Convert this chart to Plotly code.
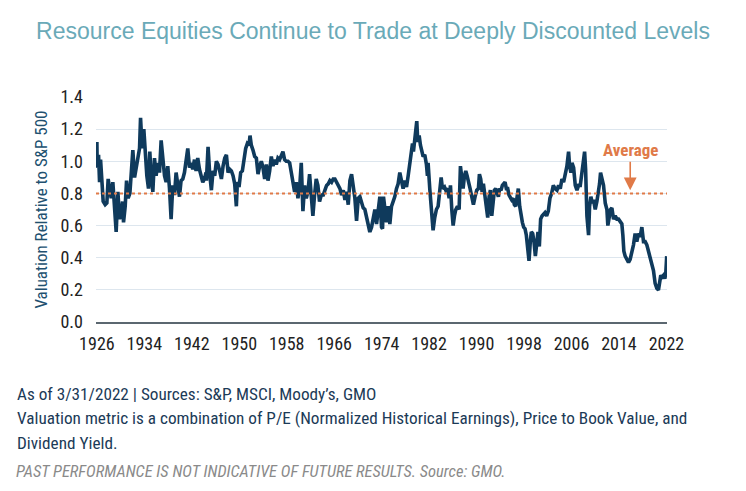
import plotly.graph_objects as go

# ---- Data ----
# (year, valuation relative to S&P 500)
seg_1926_1944 = [
    (1926.0, 1.12), (1926.05, 0.96), (1926.28, 1.04), (1926.45, 0.87), (1926.62, 1.01),
    (1926.84, 0.83), (1927.06, 0.75), (1927.4, 0.73), (1927.68, 0.74), (1927.9, 0.89),
    (1928.19, 0.80), (1928.41, 0.77), (1928.69, 0.87), (1928.98, 0.72), (1929.25, 0.56),
    (1929.54, 0.81), (1929.82, 0.64), (1930.09, 0.68), (1930.33, 0.75), (1930.49, 0.62),
    (1930.77, 0.72), (1931.0, 0.88), (1931.27, 0.77), (1931.56, 0.80), (1931.84, 0.95),
    (1932.06, 1.07), (1932.35, 0.90), (1932.62, 0.96), (1932.9, 1.03), (1933.19, 1.08),
    (1933.36, 1.27), (1933.63, 1.08), (1933.91, 1.20), (1934.13, 1.06), (1934.42, 0.91),
    (1934.7, 0.83), (1934.92, 1.06), (1935.14, 0.91), (1935.43, 0.81), (1935.71, 1.02),
    (1935.98, 0.91), (1936.27, 0.99), (1936.55, 0.93), (1936.83, 1.13), (1937.11, 1.01),
    (1937.4, 0.91), (1937.67, 0.87), (1937.95, 0.97), (1938.24, 0.83), (1938.51, 0.64),
    (1938.79, 0.85), (1939.08, 0.79), (1939.35, 0.93), (1939.64, 0.83), (1939.92, 0.78),
    (1940.19, 0.88), (1940.48, 0.89), (1940.76, 0.93), (1941.03, 0.99), (1941.32, 1.08),
    (1941.61, 0.96), (1941.88, 0.99), (1942.16, 0.95), (1942.45, 1.01), (1942.72, 0.94),
    (1943.0, 1.02), (1943.29, 0.95), (1943.56, 0.91), (1943.85, 0.87), (1944.13, 0.89),
    (1944.4, 0.93),
]
seg_1944_1964 = [
    (1944.46, 0.88), (1944.74, 1.09), (1945.02, 0.92), (1945.30, 0.82), (1945.58, 0.94),
    (1945.86, 0.91), (1946.14, 1.00), (1946.42, 0.98), (1946.70, 0.94), (1946.99, 0.89),
    (1947.27, 0.97), (1947.55, 1.02), (1947.83, 1.04), (1948.11, 0.93), (1948.39, 0.95),
    (1948.67, 0.94), (1948.95, 0.91), (1949.23, 0.86), (1949.51, 0.72), (1949.68, 0.87),
    (1949.96, 0.84), (1950.24, 0.93), (1950.52, 0.94), (1950.80, 1.01), (1951.08, 1.08),
    (1951.36, 1.11), (1951.64, 1.10), (1951.81, 1.16), (1952.03, 1.10), (1952.31, 1.07),
    (1952.60, 1.03), (1952.88, 1.02), (1953.16, 0.92), (1953.44, 0.97), (1953.72, 1.00),
    (1954.00, 0.96), (1954.28, 0.89), (1954.56, 0.98), (1954.84, 0.88), (1955.12, 0.94),
    (1955.40, 1.03), (1955.68, 0.97), (1955.96, 1.01), (1956.24, 0.98), (1956.52, 1.02),
    (1956.80, 1.01), (1957.08, 1.04), (1957.36, 1.06), (1957.64, 1.01), (1957.92, 1.00),
    (1958.21, 1.00), (1958.49, 0.99), (1958.77, 0.93), (1959.05, 0.88), (1959.33, 0.81),
    (1959.61, 0.87), (1959.89, 0.77), (1960.17, 0.83), (1960.45, 0.99), (1960.73, 0.69),
    (1961.01, 0.85), (1961.29, 0.77), (1961.57, 0.81), (1961.85, 0.92), (1962.13, 0.77),
    (1962.41, 0.66), (1962.69, 0.79), (1962.97, 0.89), (1963.25, 0.85), (1963.53, 0.75),
    (1963.82, 0.79),
]
seg_1964_1983 = [
    (1964.16, 0.79), (1964.44, 0.82), (1964.72, 0.85), (1965.00, 0.86), (1965.28, 0.88),
    (1965.56, 0.87), (1965.84, 0.89), (1966.12, 0.89), (1966.40, 0.87), (1966.69, 0.84),
    (1966.97, 0.83), (1967.25, 0.79), (1967.53, 0.82), (1967.81, 0.76), (1968.09, 0.81),
    (1968.37, 0.73), (1968.65, 0.88), (1968.93, 0.92), (1969.21, 0.85), (1969.49, 0.77),
    (1969.77, 0.63), (1970.05, 0.77), (1970.33, 0.78), (1970.61, 0.75), (1970.89, 0.71),
    (1971.17, 0.70), (1971.45, 0.66), (1971.73, 0.61), (1972.01, 0.56), (1972.30, 0.59),
    (1972.58, 0.64), (1972.86, 0.70), (1973.14, 0.61), (1973.42, 0.70), (1973.70, 0.78),
    (1973.98, 0.59), (1974.15, 0.58), (1974.31, 0.78), (1974.54, 0.70), (1974.82, 0.62),
    (1975.10, 0.72), (1975.38, 0.61), (1975.66, 0.72), (1975.94, 0.75), (1976.22, 0.78),
    (1976.50, 0.83), (1976.78, 0.86), (1977.06, 0.93), (1977.34, 0.88), (1977.62, 0.83),
    (1977.91, 0.88), (1978.19, 0.84), (1978.47, 0.91), (1978.75, 0.99), (1979.03, 1.03),
    (1979.20, 1.11), (1979.36, 1.06), (1979.59, 1.16), (1979.76, 1.24), (1979.92, 1.25),
    (1980.09, 1.12), (1980.32, 1.16), (1980.54, 1.10), (1980.71, 1.08), (1980.99, 1.03),
    (1981.27, 1.04), (1981.55, 0.98), (1981.72, 0.91), (1981.83, 0.99), (1982.11, 0.83),
    (1982.39, 0.70), (1982.67, 0.57), (1982.95, 0.65), (1983.23, 0.70), (1983.52, 0.72),
]
seg_1983_2003 = [
    (1983.86, 0.89), (1984.03, 0.90), (1984.25, 0.83), (1984.59, 0.84), (1984.81, 0.82),
    (1985.09, 0.83), (1985.38, 0.77), (1985.60, 0.85), (1985.82, 0.70), (1986.05, 0.60),
    (1986.27, 0.66), (1986.50, 0.70), (1986.78, 0.72), (1987.06, 0.70), (1987.28, 0.97),
    (1987.51, 0.89), (1987.73, 0.83), (1987.96, 0.91), (1988.18, 0.94), (1988.40, 0.91),
    (1988.63, 0.86), (1988.91, 0.83), (1989.19, 0.78), (1989.47, 0.73), (1989.75, 0.78),
    (1990.03, 0.82), (1990.31, 0.83), (1990.48, 0.92), (1990.70, 0.89), (1990.93, 0.81),
    (1991.15, 0.86), (1991.43, 0.77), (1991.71, 0.71), (1991.88, 0.65), (1992.11, 0.78),
    (1992.33, 0.82), (1992.56, 0.66), (1992.78, 0.77), (1993.00, 0.82), (1993.23, 0.83),
    (1993.45, 0.80), (1993.68, 0.78), (1993.90, 0.83), (1994.13, 0.82), (1994.35, 0.85),
    (1994.58, 0.86), (1994.80, 0.87), (1995.02, 0.83), (1995.25, 0.83), (1995.47, 0.79),
    (1995.70, 0.77), (1995.92, 0.76), (1996.15, 0.77), (1996.37, 0.73), (1996.60, 0.72),
    (1996.82, 0.78), (1997.04, 0.83), (1997.27, 0.72), (1997.49, 0.66), (1997.72, 0.62),
    (1997.94, 0.59), (1998.17, 0.58), (1998.39, 0.54), (1998.61, 0.48), (1998.84, 0.38),
    (1999.06, 0.50), (1999.23, 0.56), (1999.46, 0.55), (1999.68, 0.50), (1999.91, 0.41),
    (2000.13, 0.52), (2000.35, 0.56), (2000.58, 0.47), (2000.80, 0.64), (2001.03, 0.66),
    (2001.25, 0.67), (2001.53, 0.68), (2001.81, 0.66), (2002.09, 0.69), (2002.37, 0.77),
    (2002.65, 0.80), (2002.94, 0.85), (2003.22, 0.83),
]
seg_2003_2022 = [
    (2003.55, 0.82), (2003.83, 0.85), (2004.11, 0.83), (2004.39, 0.89), (2004.67, 0.87),
    (2004.95, 0.91), (2005.23, 0.97), (2005.51, 1.06), (2005.68, 0.97), (2005.91, 0.93),
    (2006.08, 0.99), (2006.36, 0.96), (2006.64, 0.85), (2006.92, 0.82), (2007.20, 0.85),
    (2007.48, 0.85), (2007.76, 0.92), (2008.04, 1.00), (2008.21, 1.06), (2008.38, 0.95),
    (2008.60, 0.66), (2008.88, 0.54), (2009.05, 0.72), (2009.27, 0.78), (2009.50, 0.74),
    (2009.72, 0.76), (2010.00, 0.70), (2010.28, 0.75), (2010.56, 0.81), (2010.73, 0.86),
    (2010.90, 0.93), (2011.12, 0.90), (2011.40, 0.85), (2011.69, 0.74), (2011.97, 0.70),
    (2012.13, 0.60), (2012.36, 0.66), (2012.58, 0.70), (2012.81, 0.71), (2013.09, 0.64),
    (2013.37, 0.66), (2013.65, 0.64), (2013.93, 0.64), (2014.21, 0.62), (2014.49, 0.61),
    (2014.66, 0.54), (2014.83, 0.44), (2015.05, 0.41), (2015.33, 0.39), (2015.61, 0.37),
    (2015.89, 0.39), (2016.17, 0.43), (2016.45, 0.48), (2016.73, 0.55), (2017.01, 0.50),
    (2017.30, 0.55), (2017.58, 0.53), (2017.86, 0.59), (2018.14, 0.50), (2018.42, 0.50),
    (2018.70, 0.48), (2018.98, 0.44), (2019.26, 0.40), (2019.54, 0.34), (2019.82, 0.32),
    (2020.10, 0.24), (2020.38, 0.21), (2020.66, 0.20), (2020.83, 0.23), (2021.05, 0.29),
    (2021.28, 0.28), (2021.50, 0.29), (2021.73, 0.27), (2021.89, 0.30), (2022.05, 0.41),
]
average_value = 0.8
x_tick_years = [1926, 1934, 1942, 1950, 1958, 1966, 1974, 1982, 1990, 1998, 2006, 2014, 2022]
y_tick_values = [0.0, 0.2, 0.4, 0.6, 0.8, 1.0, 1.2, 1.4]
y_tick_labels = ["0.0", "0.2", "0.4", "0.6", "0.8", "1.0", "1.2", "1.4"]

title_text = "Resource Equities Continue to Trade at Deeply Discounted Levels"
y_title_text = "Valuation Relative to S&amp;P 500"
footer_lines = [
    "As of 3/31/2022 | Sources: S&amp;P, MSCI, Moody’s, GMO",
    "Valuation metric is a combination of P/E (Normalized Historical Earnings), Price to Book Value, and",
    "Dividend Yield.",
]
disclaimer_text = "PAST PERFORMANCE IS NOT INDICATIVE OF FUTURE RESULTS. Source: GMO."

# ---- Build series ----
all_points = seg_1926_1944 + seg_1944_1964 + seg_1964_1983 + seg_1983_2003 + seg_2003_2022
years = [p[0] for p in all_points]
values = [p[1] for p in all_points]

NARROW = "Liberation Sans Narrow, Roboto Condensed, Arial Narrow, Roboto, sans-serif"
NAVY = "#0f3a5c"
ORANGE = "#e07a48"

fig = go.Figure()
fig.add_trace(go.Scatter(
    x=years, y=values, mode="lines",
    line=dict(color=NAVY, width=3.6),
    hoverinfo="skip", showlegend=False,
))

fig.add_shape(type="line", xref="paper", x0=0, x1=1, yref="y",
              y0=average_value, y1=average_value,
              line=dict(color=ORANGE, width=2, dash="dot"), layer="above")

fig.add_annotation(x=2015.9, y=0.82, xref="x", yref="y",
                   text="<b>Average</b>", showarrow=True,
                   ax=0, ay=-40, arrowhead=2, arrowsize=1.6, arrowwidth=1.6,
                   arrowcolor=ORANGE, standoff=0,
                   font=dict(family=NARROW, size=17, color=ORANGE))

fig.add_annotation(x=-0.098, y=0.5, xref="paper", yref="paper",
                   text=y_title_text, textangle=-90, showarrow=False,
                   xanchor="center", yanchor="middle",
                   font=dict(family=NARROW, size=17, color="#21506f"))

footer_y = [-0.32, -0.4267, -0.5378]
for txt, yy in zip(footer_lines, footer_y):
    fig.add_annotation(x=-0.1419, y=yy, xref="paper", yref="paper", text=txt,
                       showarrow=False, xanchor="left", yanchor="middle",
                       font=dict(family=NARROW, size=17.2, color="#1b3a57"))
fig.add_annotation(x=-0.1436, y=-0.664, xref="paper", yref="paper",
                   text="<i>" + disclaimer_text + "</i>",
                   showarrow=False, xanchor="left", yanchor="middle",
                   font=dict(family=NARROW, size=16.5, color="#8a8a8a"))

fig.update_layout(
    width=746, height=491,
    margin=dict(l=96, r=79, t=97, b=169, autoexpand=False),
    paper_bgcolor="white", plot_bgcolor="white",
    title=dict(text=title_text, x=0.5, xref="container", y=0.937, yref="container",
               xanchor="center", yanchor="middle",
               font=dict(family="Liberation Sans, Arial, sans-serif", size=23, color="#6aaab8")),
    xaxis=dict(range=[1925.85, 2022.1], tickmode="array", tickvals=x_tick_years,
               showgrid=False, zeroline=False, showline=True, linecolor="#5b6770",
               linewidth=1.5, ticks="", ticklabelstandoff=5,
               tickfont=dict(family=NARROW, size=18, color="#222222")),
    yaxis=dict(range=[0, 1.4], tickmode="array", tickvals=y_tick_values,
               ticktext=y_tick_labels, showgrid=True, gridcolor="#dde6ee",
               gridwidth=1.3, zeroline=False, showline=False, ticks="",
               ticklabelstandoff=12,
               tickfont=dict(family=NARROW, size=18, color="#222222")),
)

fig.write_html("out.html", config={"displayModeBar": False},
               post_script="document.body.style.margin='0';")
